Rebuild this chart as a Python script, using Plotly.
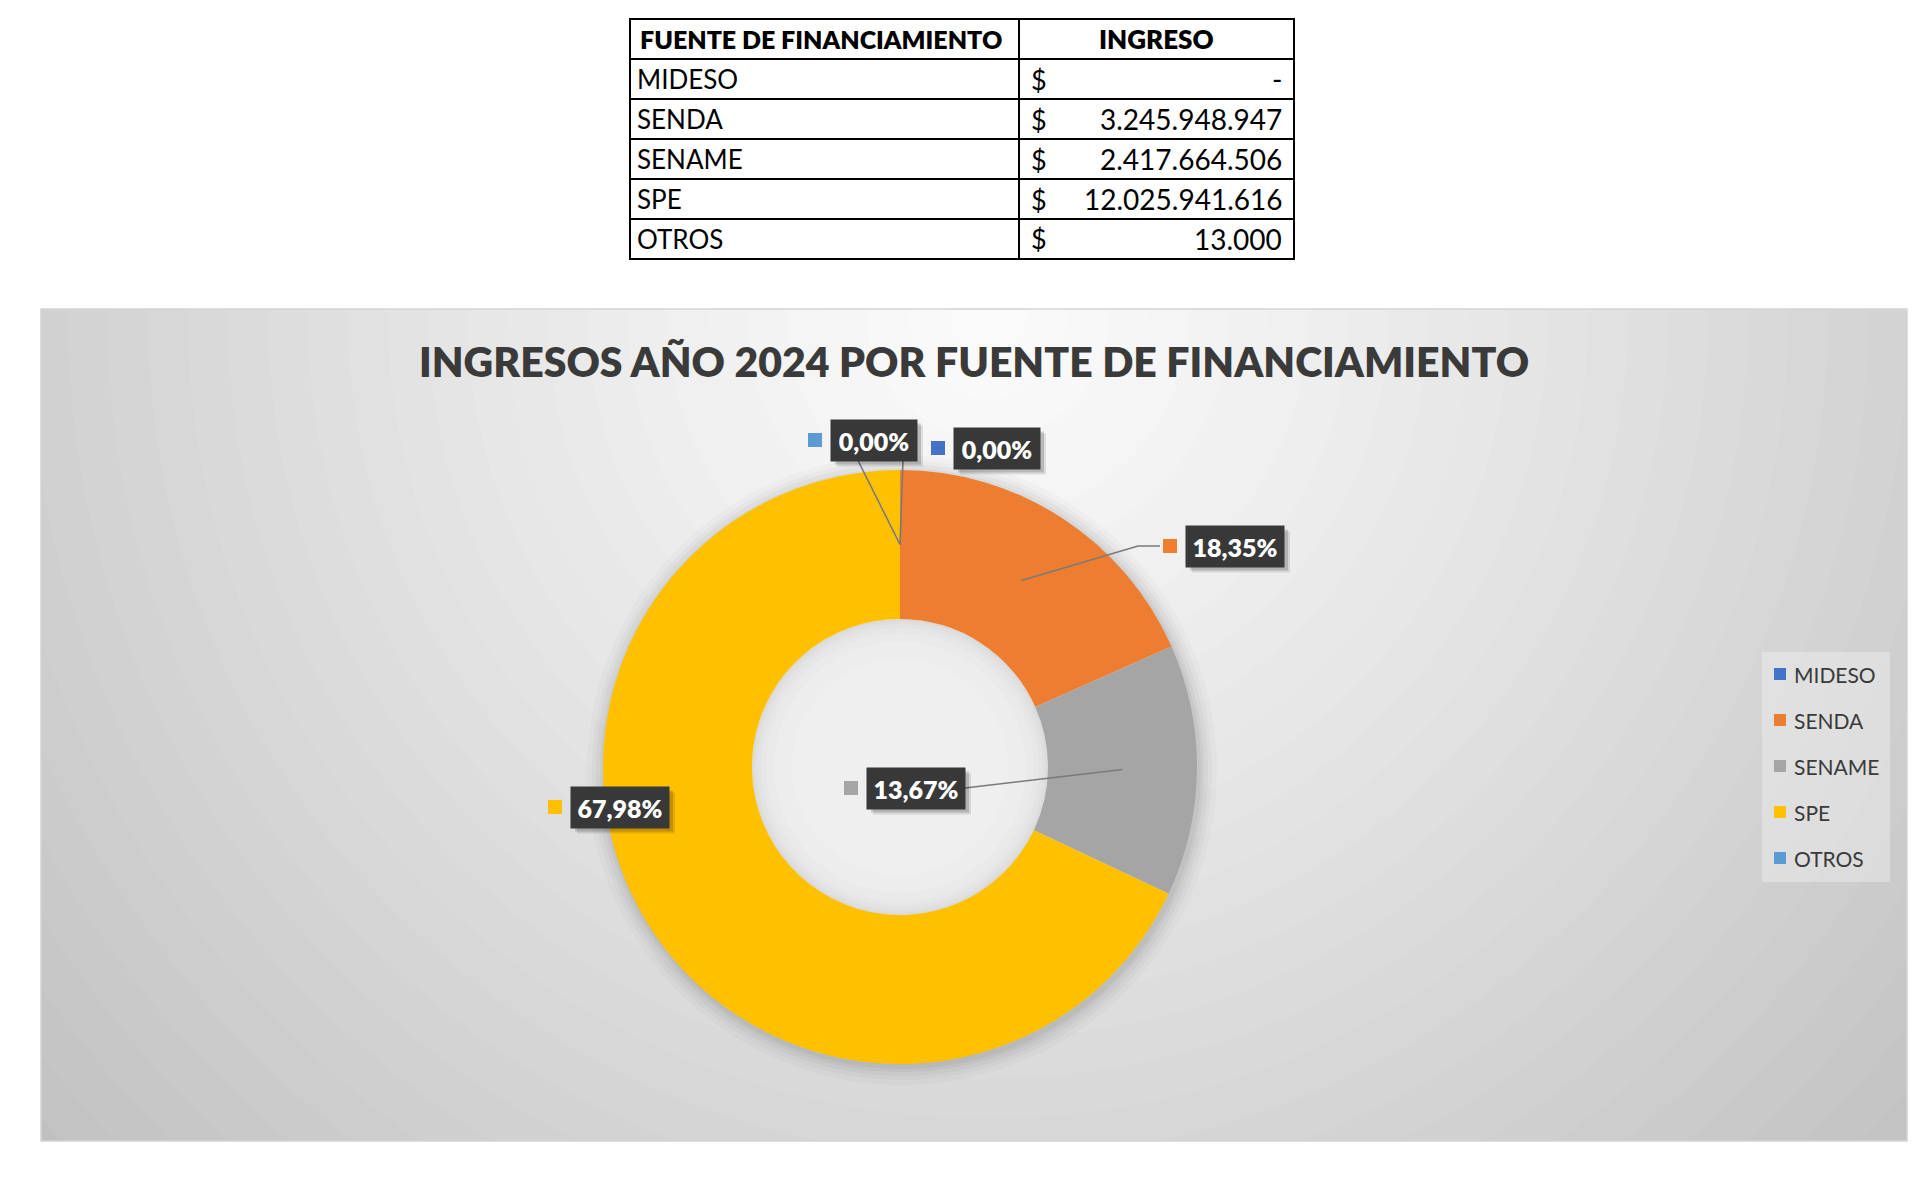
import math
import plotly.graph_objects as go

# ---------------- data ----------------
fuentes = ["MIDESO", "SENDA", "SENAME", "SPE", "OTROS"]
ingresos = [0, 3245948947, 2417664506, 12025941616, 13000]
colores = ["#4472C4", "#ED7D31", "#A5A5A5", "#FFC000", "#5B9BD5"]
titulo = "INGRESOS AÑO 2024 POR FUENTE DE FINANCIAMIENTO"
encabezados = ["FUENTE DE FINANCIAMIENTO", "INGRESO"]

# ---------------- layout constants (pixels) ----------------
W, H = 1926, 1180
FONT = "Lato, 'Open Sans', sans-serif"
DARK = "#3a3a3a"

def px(x):
    return x / W

def py(y):
    return 1 - y / H

CA_X0, CA_Y0, CA_X1, CA_Y1 = 33, 301, 1899, 1133          # chart area
CX, CY, R_OUT, R_IN = 892, 759, 297, 148                   # donut
GC_X, GC_Y = 980, 310                                      # gradient centre

# label box centres (style positions)
label_pos = {
    "MIDESO": (989, 440),
    "SENDA": (1227, 538),
    "SENAME": (908, 780),
    "SPE": (612, 799),
    "OTROS": (866, 432),
}

total = sum(ingresos)

def fmt_pct(v):
    return f"{v / total * 100:.2f}".replace(".", ",") + "%"

def fmt_money(v):
    return "-" if v == 0 else f"{v:,}".replace(",", ".")

def ring_path(cx, cy, r1, r2, n=144):
    pts_o = [(cx + r2 * math.cos(2 * math.pi * k / n), cy + r2 * math.sin(2 * math.pi * k / n)) for k in range(n)]
    pts_i = [(cx + r1 * math.cos(-2 * math.pi * k / n), cy + r1 * math.sin(-2 * math.pi * k / n)) for k in range(n)]
    s = "M" + " L".join(f"{x:.1f},{y:.1f}" for x, y in pts_o) + " Z "
    s += "M" + " L".join(f"{x:.1f},{y:.1f}" for x, y in pts_i) + " Z"
    return s

fig = go.Figure()

# invisible trace to create the chart-area cartesian subplot
fig.add_trace(go.Scatter(x=[CA_X0, CA_X1], y=[CA_Y0, CA_Y1], mode="markers",
                         marker=dict(opacity=0), hoverinfo="skip", showlegend=False))

fig.add_trace(go.Pie(
    labels=fuentes, values=ingresos, hole=R_IN / R_OUT, sort=False,
    direction="clockwise", rotation=0, textinfo="none",
    marker=dict(colors=colores, line=dict(width=0)), showlegend=False,
    domain=dict(x=[px(CX - R_OUT), px(CX + R_OUT)],
                y=[py(CY + R_OUT), py(CY - R_OUT)]),
    hoverinfo="label+percent",
))

shapes = []
annotations = []

# ---------- radial gradient background (banded like Excel) ----------
def gray_at(d):
    g = 252 - 58 * (d / 1260) ** 1.15
    g = int(max(190, min(252, g)))
    return f"rgb({g},{g},{g})"

step = 40
r = 1400
while r > 0:
    shapes.append(dict(type="circle", xref="x", yref="y", layer="below",
                       x0=GC_X - r, x1=GC_X + r, y0=GC_Y - r, y1=GC_Y + r,
                       fillcolor=gray_at(r), line=dict(width=0)))
    r -= step

# soft shadow halo around donut (rings only)
for dr, a in [(18, 0.02), (13, 0.025), (9, 0.03), (5, 0.035), (2, 0.04)]:
    shapes.append(dict(type="path", xref="x", yref="y", layer="below",
                       path=ring_path(CX + 2, CY + 3, R_OUT - 5, R_OUT + dr),
                       fillcolor=f"rgba(0,0,0,{a})", line=dict(width=0)))

# hole: light, with a soft darker rim
for rr, g in [(R_IN, 218), (R_IN - 2, 223), (R_IN - 5, 227), (R_IN - 9, 231),
              (R_IN - 14, 234), (R_IN - 22, 237), (R_IN - 40, 239)]:
    c = f"rgb({g},{g},{g})"
    shapes.append(dict(type="circle", xref="x", yref="y", layer="below",
                       x0=CX - rr, x1=CX + rr, y0=CY - rr, y1=CY + rr,
                       fillcolor=c, line=dict(width=0)))

# chart-area border
shapes.append(dict(type="rect", xref="paper", yref="paper", layer="above",
                   x0=px(CA_X0), x1=px(CA_X1), y0=py(CA_Y1), y1=py(CA_Y0),
                   line=dict(color="#d3d3d3", width=1.5)))

# ---------- title ----------
annotations.append(dict(xref="paper", yref="paper", x=px(966), y=py(353),
                        text=titulo, showarrow=False,
                        xanchor="center", yanchor="middle",
                        font=dict(family=FONT, size=41, color=DARK, weight=800)))

# ---------- data labels with leader lines ----------
LINE = dict(color="#7a7a7a", width=1.6)
rm = (R_OUT + R_IN) / 2
cum = 0
for name, v, col in zip(fuentes, ingresos, colores):
    mid = (cum + v / 2) / total * 2 * math.pi
    cum += v
    sx = CX + rm * math.sin(mid)
    sy = CY - rm * math.cos(mid)
    lx, ly = label_pos[name]
    txt = fmt_pct(v)
    ndig = sum(ch.isdigit() for ch in txt)
    bw = 86 if ndig <= 3 else 98
    bh = 41
    left = lx - bw / 2
    # leader lines
    if name == "SENDA":
        shapes.append(dict(type="path", xref="x", yref="y", layer="above",
                           path=f"M{sx:.1f},{sy:.1f} L{left - 48},{ly} L{left - 26},{ly}", line=LINE))
    elif name == "SENAME":
        shapes.append(dict(type="line", xref="x", yref="y", layer="above",
                           x0=sx, y0=sy, x1=lx + bw / 2, y1=ly, line=LINE))
    elif name == "OTROS":
        shapes.append(dict(type="line", xref="x", yref="y", layer="above",
                           x0=sx, y0=sy, x1=lx - 16, y1=ly + bh / 2, line=LINE))
    elif name == "MIDESO":
        ox, oy = label_pos["OTROS"]
        shapes.append(dict(type="line", xref="x", yref="y", layer="above",
                           x0=sx, y0=sy, x1=ox + 29, y1=oy + bh / 2, line=LINE))
    # marker square
    shapes.append(dict(type="rect", xref="x", yref="y", layer="above",
                       x0=left - 23, x1=left - 9, y0=ly - 7, y1=ly + 7,
                       fillcolor=col, line=dict(width=0)))
    # drop shadow of the box
    for off, a in [(6, 0.10), (4, 0.16)]:
        shapes.append(dict(type="rect", xref="x", yref="y", layer="above",
                           x0=left + off, x1=left + bw + off, y0=ly - bh / 2 + off, y1=ly + bh / 2 + off,
                           fillcolor=f"rgba(0,0,0,{a})", line=dict(width=0)))
    annotations.append(dict(xref="x", yref="y", x=lx, y=ly, text=txt,
                            showarrow=False, width=bw - 12, height=bh - 12, borderpad=6,
                            bgcolor="#383838",
                            font=dict(family=FONT, size=25, color="white", weight=800)))

# ---------- custom legend ----------
LG_X0, LG_Y0, LG_X1, LG_Y1 = 1754, 644, 1882, 874
shapes.append(dict(type="rect", xref="x", yref="y", layer="below",
                   x0=LG_X0, x1=LG_X1, y0=LG_Y0, y1=LG_Y1,
                   fillcolor="rgba(240,240,240,0.45)", line=dict(width=0)))
for i, (name, col) in enumerate(zip(fuentes, colores)):
    yy = 666 + i * 46
    shapes.append(dict(type="rect", xref="x", yref="y", layer="above",
                       x0=1766, x1=1778, y0=yy - 6, y1=yy + 6,
                       fillcolor=col, line=dict(width=0)))
    annotations.append(dict(xref="x", yref="y", x=1784, y=yy, text=name,
                            showarrow=False, xanchor="left", yanchor="middle",
                            font=dict(family=FONT, size=21, color=DARK)))

# ---------- table ----------
T_X = [622, 1011, 1286]
T_Y0, ROW_H = 11, 40
n_rows = len(fuentes) + 1
TB = dict(color="black", width=2)
for k in range(n_rows + 1):
    yy = T_Y0 + k * ROW_H
    shapes.append(dict(type="line", xref="paper", yref="paper",
                       x0=px(T_X[0] - 1), x1=px(T_X[-1] + 1), y0=py(yy), y1=py(yy), line=TB))
for xx in T_X:
    shapes.append(dict(type="line", xref="paper", yref="paper",
                       x0=px(xx), x1=px(xx), y0=py(T_Y0), y1=py(T_Y0 + n_rows * ROW_H), line=TB))

TFONT = 26
hc = T_Y0 + ROW_H / 2
annotations.append(dict(xref="paper", yref="paper", x=px((T_X[0] + T_X[1]) / 2 - 4), y=py(hc),
                        text=encabezados[0], showarrow=False,
                        xanchor="center", yanchor="middle",
                        font=dict(family=FONT, size=TFONT - 1, color="black", weight=800)))
annotations.append(dict(xref="paper", yref="paper", x=px((T_X[1] + T_X[2]) / 2), y=py(hc),
                        text=encabezados[1], showarrow=False,
                        xanchor="center", yanchor="middle",
                        font=dict(family=FONT, size=TFONT, color="black", weight=800)))
for i, (name, v) in enumerate(zip(fuentes, ingresos)):
    yc = T_Y0 + (i + 1) * ROW_H + ROW_H / 2
    annotations.append(dict(xref="paper", yref="paper", x=px(T_X[0] + 5), y=py(yc),
                            text=name, showarrow=False, xanchor="left", yanchor="middle",
                            font=dict(family=FONT, size=TFONT, color="black")))
    annotations.append(dict(xref="paper", yref="paper", x=px(T_X[1] + 10), y=py(yc),
                            text="$", showarrow=False, xanchor="left", yanchor="middle",
                            font=dict(family=FONT, size=TFONT + 1, color="black")))
    annotations.append(dict(xref="paper", yref="paper", x=px(T_X[2] - 10), y=py(yc),
                            text=fmt_money(v), showarrow=False, xanchor="right", yanchor="middle",
                            font=dict(family=FONT, size=TFONT + 2, color="black")))

fig.update_layout(
    width=W, height=H,
    margin=dict(l=0, r=0, t=0, b=0),
    paper_bgcolor="white",
    plot_bgcolor=gray_at(1400),
    showlegend=False,
    xaxis=dict(domain=[px(CA_X0), px(CA_X1)], range=[CA_X0, CA_X1], visible=False,
               fixedrange=True),
    yaxis=dict(domain=[py(CA_Y1), py(CA_Y0)], range=[CA_Y1, CA_Y0], visible=False,
               fixedrange=True),
    shapes=shapes,
    annotations=annotations,
)

fig.write_html("out.html", config={"displayModeBar": False})
